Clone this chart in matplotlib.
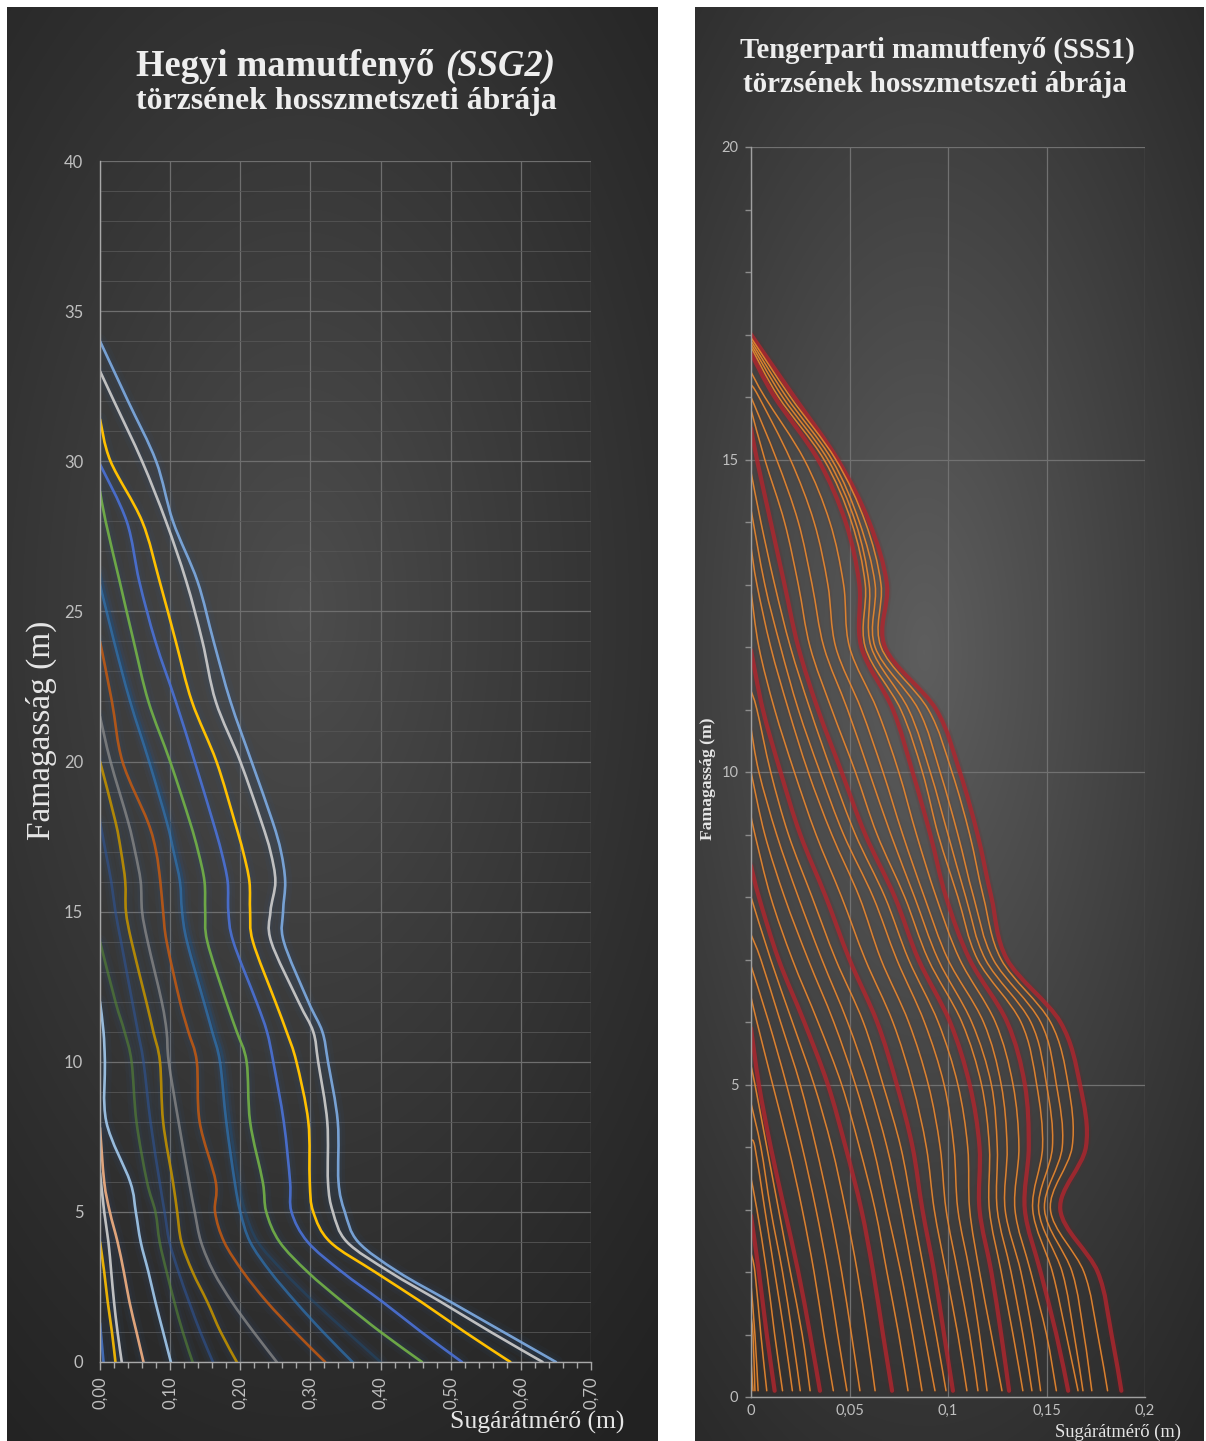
import numpy as np
import matplotlib
matplotlib.use("Agg")
import matplotlib.pyplot as plt
from matplotlib.path import Path
from matplotlib.patches import PathPatch
from matplotlib.colors import LinearSegmentedColormap

# ---------------------------------------------------------------- data
# Left chart: Hegyi mamutfenyő (SSG2) – radius (m) at common heights (m)
ssg2_heights = [0, 1, 2, 3, 4, 5, 6, 8, 10, 11, 12, 14, 15, 16, 17, 18, 20, 22, 24, 26, 28, 30, 32]
ssg2_radius = [
    [0.005],
    [0.022, 0.017, 0.011, 0.006],
    [0.031, 0.025, 0.020, 0.016, 0.012, 0.006],
    [0.062, 0.052, 0.042, 0.034, 0.025, 0.014, 0.006],
    [0.101, 0.090, 0.079, 0.069, 0.058, 0.051, 0.043, 0.009, 0.007, 0.005],
    [0.132, 0.118, 0.106, 0.095, 0.085, 0.079, 0.067, 0.052, 0.045, 0.035, 0.022],
    [0.161, 0.143, 0.127, 0.112, 0.099, 0.092, 0.085, 0.072, 0.062, 0.054, 0.046, 0.030, 0.022, 0.016, 0.008],
    [0.195, 0.172, 0.153, 0.132, 0.116, 0.110, 0.104, 0.090, 0.0855, 0.076, 0.066, 0.045, 0.037, 0.036, 0.030, 0.022],
    [0.252, 0.219, 0.188, 0.162, 0.144, 0.135, 0.127, 0.112, 0.098, 0.095, 0.088, 0.068, 0.060, 0.058, 0.050, 0.040, 0.015],
    [0.321, 0.278, 0.238, 0.204, 0.177, 0.164, 0.165, 0.142, 0.138, 0.126, 0.114, 0.095, 0.090, 0.086, 0.080, 0.068, 0.032, 0.017],
    [0.360, 0.318, 0.279, 0.243, 0.214, 0.200, 0.192, 0.180, 0.171, 0.160, 0.148, 0.124, 0.117, 0.114, 0.105, 0.095, 0.070, 0.043, 0.020],
    [0.400, 0.352, 0.305, 0.262, 0.225, 0.207, 0.198, 0.185, 0.176, 0.165, 0.153, 0.129, 0.121, 0.118, 0.109, 0.099, 0.074, 0.047, 0.024],
    [0.459, 0.400, 0.346, 0.296, 0.256, 0.237, 0.232, 0.214, 0.209, 0.195, 0.180, 0.153, 0.150, 0.149, 0.140, 0.128, 0.100, 0.069, 0.048, 0.028, 0.008],
    [0.516, 0.458, 0.403, 0.345, 0.296, 0.273, 0.271, 0.262, 0.247, 0.238, 0.223, 0.190, 0.183, 0.182, 0.173, 0.161, 0.135, 0.108, 0.079, 0.056, 0.038],
    [0.585, 0.520, 0.458, 0.392, 0.328, 0.304, 0.299, 0.297, 0.280, 0.266, 0.250, 0.218, 0.214, 0.213, 0.204, 0.192, 0.166, 0.131, 0.108, 0.085, 0.060, 0.015],
    [0.631, 0.557, 0.486, 0.413, 0.352, 0.332, 0.325, 0.324, 0.311, 0.304, 0.283, 0.244, 0.243, 0.250, 0.243, 0.230, 0.200, 0.165, 0.146, 0.123, 0.094, 0.060, 0.020],
    [0.650, 0.575, 0.500, 0.425, 0.368, 0.349, 0.340, 0.339, 0.325, 0.317, 0.297, 0.262, 0.261, 0.264, 0.258, 0.246, 0.216, 0.186, 0.162, 0.139, 0.104, 0.080, 0.040],
]
ssg2_top = [1.3, 4.0, 6.3, 7.8, 12.0, 14.0, 18.0, 20.0, 21.5, 24.0, 25.9, 26.3, 29.0, 29.9, 31.4, 33.0, 34.0]

# Right chart: Tengerparti mamutfenyő (SSS1)
sss1_heights = [0.1, 1, 2, 3, 4, 5, 6, 7, 8, 9, 10, 11, 12, 13, 14, 15, 16]
sss1_radius = [
    [0.188, 0.183, 0.176, 0.157, 0.170, 0.167, 0.157, 0.130, 0.122, 0.115, 0.106, 0.094, 0.068, 0.069, 0.060, 0.044, 0.022],
    [0.181, 0.176, 0.169, 0.152, 0.163, 0.161, 0.152, 0.127, 0.118, 0.111, 0.102, 0.090, 0.066, 0.066, 0.058, 0.043, 0.020],
    [0.173, 0.169, 0.163, 0.149, 0.158, 0.155, 0.147, 0.123, 0.113, 0.105, 0.096, 0.085, 0.063, 0.063, 0.055, 0.041, 0.018],
    [0.1685, 0.164, 0.158, 0.146, 0.153, 0.150, 0.142, 0.119, 0.109, 0.100, 0.091, 0.080, 0.061, 0.060, 0.053, 0.039, 0.016],
    [0.166, 0.160, 0.153, 0.143, 0.148, 0.145, 0.137, 0.115, 0.105, 0.095, 0.087, 0.076, 0.058, 0.058, 0.051, 0.037, 0.014],
    [0.161, 0.155, 0.147, 0.139, 0.141, 0.139, 0.130, 0.111, 0.099, 0.091, 0.082, 0.072, 0.056, 0.055, 0.048, 0.034, 0.012],
    [0.155, 0.150, 0.142, 0.134, 0.136, 0.133, 0.124, 0.106, 0.094, 0.084, 0.075, 0.064, 0.050, 0.047, 0.040, 0.027, 0.007],
    [0.147, 0.143, 0.137, 0.129, 0.130, 0.127, 0.118, 0.100, 0.088, 0.077, 0.067, 0.056, 0.043, 0.039, 0.032, 0.020, 0.004],
    [0.1426, 0.138, 0.132, 0.125, 0.125, 0.122, 0.112, 0.095, 0.083, 0.071, 0.060, 0.049, 0.037, 0.031, 0.024, 0.013],
    [0.138, 0.133, 0.127, 0.121, 0.121, 0.117, 0.107, 0.090, 0.078, 0.064, 0.053, 0.041, 0.030, 0.024, 0.017, 0.007],
    [0.131, 0.127, 0.122, 0.116, 0.116, 0.111, 0.101, 0.085, 0.073, 0.058, 0.046, 0.034, 0.024, 0.017, 0.010, 0.003],
    [0.1274, 0.122, 0.116, 0.111, 0.110, 0.105, 0.095, 0.080, 0.068, 0.053, 0.041, 0.030, 0.020, 0.012, 0.005],
    [0.1198, 0.116, 0.111, 0.105, 0.103, 0.098, 0.088, 0.074, 0.062, 0.047, 0.035, 0.024, 0.015, 0.007],
    [0.1152, 0.111, 0.105, 0.099, 0.096, 0.090, 0.080, 0.066, 0.055, 0.041, 0.029, 0.019, 0.010, 0.003],
    [0.1096, 0.105, 0.099, 0.093, 0.089, 0.082, 0.072, 0.058, 0.046, 0.033, 0.022, 0.012, 0.004],
    [0.1025, 0.098, 0.093, 0.087, 0.082, 0.074, 0.064, 0.050, 0.038, 0.025, 0.015, 0.006],
    [0.099, 0.094, 0.088, 0.082, 0.076, 0.067, 0.057, 0.043, 0.031, 0.019, 0.010, 0.003],
    [0.0934, 0.088, 0.082, 0.076, 0.069, 0.060, 0.049, 0.036, 0.024, 0.013, 0.004],
    [0.0868, 0.082, 0.076, 0.069, 0.062, 0.053, 0.042, 0.029, 0.017, 0.007],
    [0.0797, 0.075, 0.069, 0.063, 0.055, 0.046, 0.034, 0.021, 0.010, 0.002],
    [0.0716, 0.067, 0.062, 0.056, 0.048, 0.039, 0.027, 0.014, 0.004],
    [0.063, 0.059, 0.054, 0.048, 0.041, 0.032, 0.021, 0.010],
    [0.0553, 0.051, 0.046, 0.040, 0.033, 0.025, 0.015, 0.005],
    [0.0487, 0.044, 0.039, 0.033, 0.026, 0.018, 0.009],
    [0.0418, 0.037, 0.032, 0.026, 0.019, 0.011, 0.003],
    [0.035, 0.030, 0.024, 0.017, 0.010, 0.004],
    [0.030, 0.026, 0.020, 0.014, 0.008, 0.002],
    [0.025, 0.021, 0.016, 0.010, 0.005],
    [0.021, 0.017, 0.012, 0.007, 0.002],
    [0.016, 0.012, 0.008, 0.003],
    [0.012, 0.008, 0.004],
    [0.008, 0.005, 0.002],
    [0.0036, 0.002],
    [0.002, 0.001],
    [0.001],
]
sss1_top = [17.0, 16.95, 16.9, 16.85, 16.8, 16.7, 16.4, 16.2, 16.0, 15.8, 15.5, 14.8, 14.2, 13.6, 12.9,
            11.95, 11.3, 10.7, 10.0, 9.3, 8.5, 8.0, 7.4, 6.9, 6.4, 5.9, 5.3, 4.7, 4.1, 3.5, 2.9, 2.3, 1.8, 1.3, 0.6]
sss1_thick = [i % 5 == 0 and i <= 30 for i in range(len(sss1_radius))]

ssg2_xticks = [0.0, 0.1, 0.2, 0.3, 0.4, 0.5, 0.6, 0.7]
ssg2_xlabels = ["0,00", "0,10", "0,20", "0,30", "0,40", "0,50", "0,60", "0,70"]
ssg2_yticks = [0, 5, 10, 15, 20, 25, 30, 35, 40]
sss1_xticks = [0.0, 0.05, 0.1, 0.15, 0.2]
sss1_xlabels = ["0", "0,05", "0,1", "0,15", "0,2"]
sss1_yticks = [0, 5, 10, 15, 20]

# ---------------------------------------------------------------- styles
ssg2_colors = ['#4472C4', '#FFC000', '#D0D0D0', '#F4B183', '#9DC3E6', '#548235', '#2F5597', '#BF9000',
               '#8C8C8C', '#C55A11', '#2E75B6', '#1F4E79', '#70AD47', '#4A6FD0', '#FFC000', '#C8C8C8', '#7BA7DC']
ssg2_alpha = [0.9, 0.9, 0.9, 0.9, 0.95, 0.65, 0.6, 0.9, 0.75, 0.85, 0.7, 0.45, 0.95, 0.95, 1.0, 0.95, 0.95]

W, H = 1206, 1441
fig = plt.figure(figsize=(W / 100, H / 100), dpi=100, facecolor='white')
SERIF = ['Liberation Serif', 'DejaVu Serif']
SANS = ['Lato', 'DejaVu Sans']


def fx(x):
    return x / W


def fy(y):
    return 1 - y / H


def panel_bg(x0, y0, x1, y1, cx, cy, c_in, c_out):
    ax = fig.add_axes([fx(x0), fy(y1), fx(x1) - fx(x0), fy(y0) - fy(y1)], zorder=0)
    w = int(x1 - x0)
    h = int(y1 - y0)
    yy, xx = np.mgrid[0:h, 0:w]
    d = np.sqrt(((xx - cx * w) / (0.85 * w)) ** 2 + ((yy - cy * h) / (0.72 * h)) ** 2)
    v = np.clip(1 - d, 0, 1) ** 1.1
    cmap = LinearSegmentedColormap.from_list('bg', [c_out, c_in])
    ax.imshow(v, cmap=cmap, aspect='auto', interpolation='bilinear', vmin=0, vmax=1)
    ax.set_axis_off()


panel_bg(7, 7, 658, 1441, 0.45, 0.42, '#4d4d4d', '#222222')
panel_bg(695, 7, 1204, 1441, 0.45, 0.45, '#5e5e5e', '#272727')


def smooth_path(xs, ys):
    pts = np.column_stack([xs, ys]).astype(float)
    n = len(pts)
    verts = [pts[0]]
    codes = [Path.MOVETO]
    for i in range(n - 1):
        p0 = pts[i - 1] if i > 0 else pts[i]
        p1 = pts[i]
        p2 = pts[i + 1]
        p3 = pts[i + 2] if i + 2 < n else pts[i + 1]
        verts += [p1 + (p2 - p0) / 6.0, p2 - (p3 - p1) / 6.0, p2]
        codes += [Path.CURVE4] * 3
    return Path(verts, codes)


def draw(ax, path, color, lw, alpha, z):
    ax.add_patch(PathPatch(path, fill=False, edgecolor=color, lw=lw, alpha=alpha,
                           capstyle='round', joinstyle='round', zorder=z))


def style_axes(ax, spine_col):
    ax.set_facecolor('none')
    for s in ['top', 'right']:
        ax.spines[s].set_visible(False)
    for s in ['left', 'bottom']:
        ax.spines[s].set_color(spine_col)
        ax.spines[s].set_linewidth(1.0)
        ax.spines[s].set_zorder(5)


# ---------------------------------------------------------------- left chart
axL = fig.add_axes([fx(100), fy(1362), fx(591) - fx(100), fy(161) - fy(1362)], zorder=2)
style_axes(axL, '#A8A8A8')
axL.set_xlim(0, 0.7)
axL.set_ylim(0, 40)
axL.set_xticks(ssg2_xticks)
axL.set_xticklabels(ssg2_xlabels, rotation=90, fontsize=12, color='#BFBFBF', family=SANS)
axL.set_xticks(np.arange(0, 0.7001, 0.02), minor=True)
axL.set_yticks(ssg2_yticks)
axL.set_yticklabels([str(v) for v in ssg2_yticks], fontsize=12, color='#BFBFBF', family=SANS)
axL.set_yticks(np.arange(0, 40.01, 1), minor=True)
axL.tick_params(axis='x', which='major', length=6, width=1, color='#A8A8A8', pad=4, direction='out')
axL.tick_params(axis='x', which='minor', length=4, width=1, color='#A8A8A8', direction='out')
axL.tick_params(axis='y', which='both', length=0, pad=12)
axL.grid(True, which='major', color='#6E6E6E', lw=0.9)
axL.grid(True, which='minor', axis='y', color='#555555', lw=0.6)
axL.set_axisbelow(True)

for i, (r, top) in enumerate(zip(ssg2_radius, ssg2_top)):
    xs = list(r) + [0.0]
    ys = list(ssg2_heights[:len(r)]) + [top]
    p = smooth_path(xs, ys)
    draw(axL, p, '#2F5F9E', 10, 0.06, 2)
    draw(axL, p, '#2F5F9E', 5.5, 0.08, 2)
    draw(axL, p, ssg2_colors[i], 1.9, ssg2_alpha[i], 3)

# ---------------------------------------------------------------- right chart
axR = fig.add_axes([fx(751), fy(1397), fx(1145) - fx(751), fy(147) - fy(1397)], zorder=2)
style_axes(axR, '#A0A0A0')
axR.set_xlim(0, 0.2)
axR.set_ylim(0, 20)
axR.set_xticks(sss1_xticks)
axR.set_xticklabels(sss1_xlabels, fontsize=10.5, color='#BFBFBF', family=SANS)
axR.set_yticks(sss1_yticks)
axR.set_yticklabels([str(v) for v in sss1_yticks], fontsize=10.5, color='#BFBFBF', family=SANS)
axR.set_yticks(np.arange(0, 20.01, 1), minor=True)
axR.tick_params(axis='x', which='both', length=0, pad=5)
axR.tick_params(axis='y', which='both', length=4, width=1, color='#8C8C8C', pad=5, direction='out')
axR.grid(True, which='major', color='#717171', lw=0.9)
axR.set_axisbelow(True)

for i, (r, top) in enumerate(zip(sss1_radius, sss1_top)):
    xs = list(r) + [0.0]
    ys = list(sss1_heights[:len(r)]) + [top]
    p = smooth_path(xs, ys)
    if sss1_thick[i]:
        draw(axR, p, '#7A1A1E', 6, 0.12, 2)
        draw(axR, p, '#B0262E', 3.0, 0.82, 3)
    else:
        draw(axR, p, '#6B2A12', 3.5, 0.12, 2)
        draw(axR, p, '#E3862F', 1.1, 0.95, 4)

# ---------------------------------------------------------------- texts
renderer = fig.canvas.get_renderer()


def fit_text(xc, yc, s, target, base=20, rotation=0, **kw):
    t = fig.text(fx(xc), fy(yc), s, ha='center', va='center', fontsize=base,
                 rotation=rotation, rotation_mode='anchor', **kw)
    bb = t.get_window_extent(renderer)
    w = bb.height if rotation == 90 else bb.width
    t.set_fontsize(base * target / w)
    return t


TCOL = '#EEEEEE'
# left title, line 1 with italic part
size1 = 26
ta = fig.text(0, 0, 'Hegyi mamutfenyő', fontsize=size1, weight='bold', family=SERIF, color=TCOL, va='center')
tb = fig.text(0, 0, '(SSG2)', fontsize=size1, weight='bold', style='italic', family=SERIF, color=TCOL, va='center')
wa = ta.get_window_extent(renderer).width
wb = tb.get_window_extent(renderer).width
gap = size1 * 100 / 72 * 0.3
scale = 419 / (wa + wb + gap)
ta.set_fontsize(size1 * scale)
tb.set_fontsize(size1 * scale)
wa *= scale
wb *= scale
gap *= scale
x0 = 346 - (wa + wb + gap) / 2
ta.set_position((fx(x0), fy(67)))
tb.set_position((fx(x0 + wa + gap), fy(67)))
fit_text(346, 101, 'törzsének hosszmetszeti ábrája', 420, weight='bold', family=SERIF, color=TCOL)

fit_text(937, 50, 'Tengerparti mamutfenyő (SSS1)', 395, weight='bold', family=SERIF, color=TCOL)
fit_text(935, 84, 'törzsének hosszmetszeti ábrája', 384, weight='bold', family=SERIF, color=TCOL)

fig.text(fx(41), fy(730), 'Famagasság (m)', rotation=90, ha='center', va='center', fontsize=24,
         family=SERIF, color='#E6E6E6')
fit_text(537, 1422, 'Sugárátmérő (m)', 175, family=SERIF, color='#E6E6E6')
fit_text(708, 779, 'Famagasság (m)', 122, rotation=90, weight='bold', family=SERIF, color='#E6E6E6')
fit_text(1118, 1432, 'Sugárátmérő (m)', 126, family=SERIF, color='#E6E6E6')

fig.savefig('out.png', dpi=100, facecolor='white')
